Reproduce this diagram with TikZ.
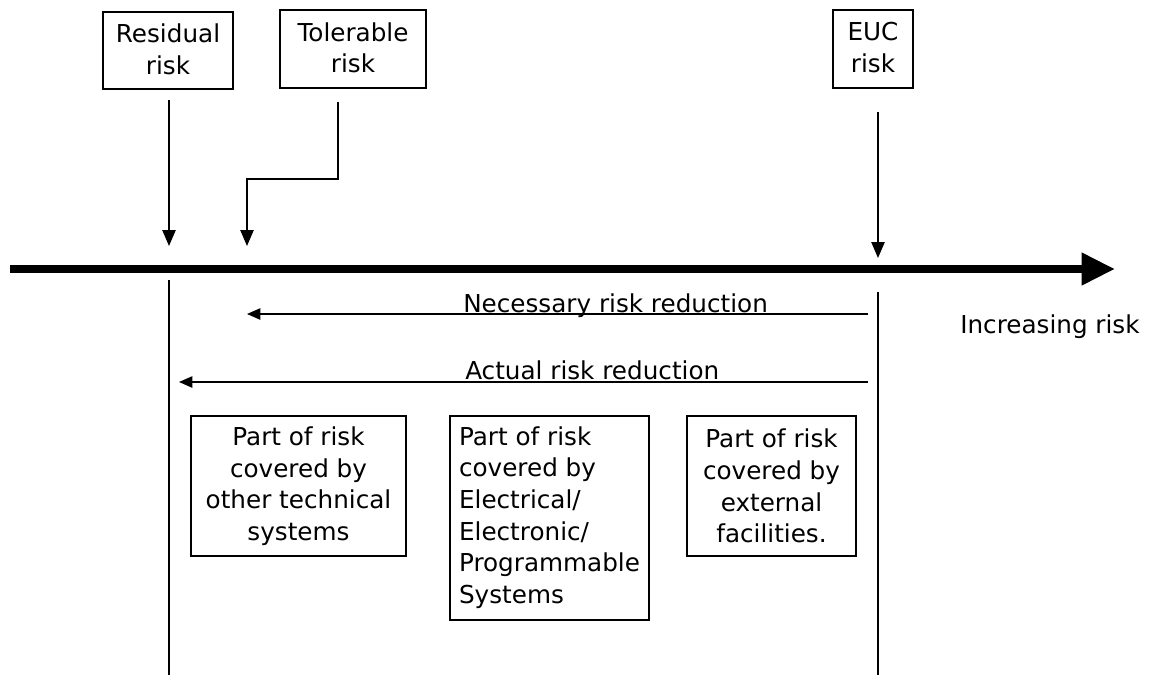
\documentclass[tikz,border=0pt]{standalone}
\usepackage{fontspec}
\setmainfont{DejaVu Sans}
\usetikzlibrary{arrows.meta,fit}
\begin{document}
\begin{tikzpicture}[x=0.75pt,y=-0.75pt,
  txt/.style={font=\fontsize{18.5pt}{23.7pt}\selectfont, inner sep=0pt},
  riskbox/.style={draw, line width=1.1pt, inner sep=0pt},
  thin/.style={line width=1.1pt},
  tip/.style={-{Triangle[length=12pt,width=10pt]}},
  ltip/.style={-{Triangle[length=10pt,width=8.5pt]}}]
\useasboundingbox (0,0) rectangle (1155,675);

% top labels
\node[riskbox, fit={(103,12) (233,89)}] (res) {};
\node[riskbox, fit={(280,10) (426,88)}] (tol) {};
\node[riskbox, fit={(833,10) (913,88)}] (euc) {};
\node[txt, align=center] (rest) at ([yshift=1pt]res.center) {Residual\\risk};
\node[txt, align=center] (tolt) at ([yshift=1pt]tol.center) {Tolerable\\risk};
\node[txt, align=center] (euct) at ([yshift=1pt]euc.center) {EUC\\risk};

% risk axis
\coordinate (axL) at (10,269);
\coordinate (axR) at (1115,269);
\draw[line width=6pt, -{Triangle[length=25pt,width=23pt]}] (axL) -- (axR);
\node[txt, anchor=base west] (inc) at (960,333) {Increasing risk};

% pointers onto the axis
\coordinate (resTop) at (169,100);
\coordinate (resTip) at (169,246);
\coordinate (tolTop) at (338,102);
\coordinate (tolBend) at (338,179);
\coordinate (tolTip) at (247,246);
\coordinate (eucTop) at (878,112);
\coordinate (eucTip) at (878,258);
\draw[thin, tip] (resTop) -- (resTip);
\draw[thin, tip] (tolTop) -- (tolBend) -| (tolTip);
\draw[thin, tip] (eucTop) -- (eucTip);

% boundary lines below the axis
\coordinate (lTop) at (169,280);
\coordinate (lBot) at (169,675);
\coordinate (rTop) at (878,292);
\coordinate (rBot) at (878,675);
\draw[thin] (lTop) -- (lBot);
\draw[thin] (rTop) -- (rBot);

% risk reduction arrows
\coordinate (nStart) at (868,314);
\coordinate (nEnd) at (247,314);
\coordinate (aStart) at (868,382);
\coordinate (aEnd) at (179,382);
\draw[thin, ltip] (nStart) -- (nEnd);
\draw[thin, ltip] (aStart) -- (aEnd);
\node[txt, anchor=base west] (nlab) at (463,312) {Necessary risk reduction};
\node[txt, anchor=base west] (alab) at (465,379) {Actual risk reduction};

% parts of the risk reduction
\node[riskbox, fit={(191,416) (406,556)}] (p1) {};
\node[riskbox, fit={(450,416) (649,620)}] (p2) {};
\node[riskbox, fit={(687,416) (856,556)}] (p3) {};
\node[txt, align=center] (p1t) at (p1.center) {Part of risk\\covered by\\other technical\\systems};
\node[txt] (p2t) at (p2.center) {\begin{tabular}{@{}l@{}}Part of risk\\covered by\\Electrical/\\Electronic/\\Programmable\\Systems\end{tabular}};
\node[txt, align=center] (p3t) at (p3.center) {Part of risk\\covered by\\external\\facilities.};
\end{tikzpicture}
\end{document}
